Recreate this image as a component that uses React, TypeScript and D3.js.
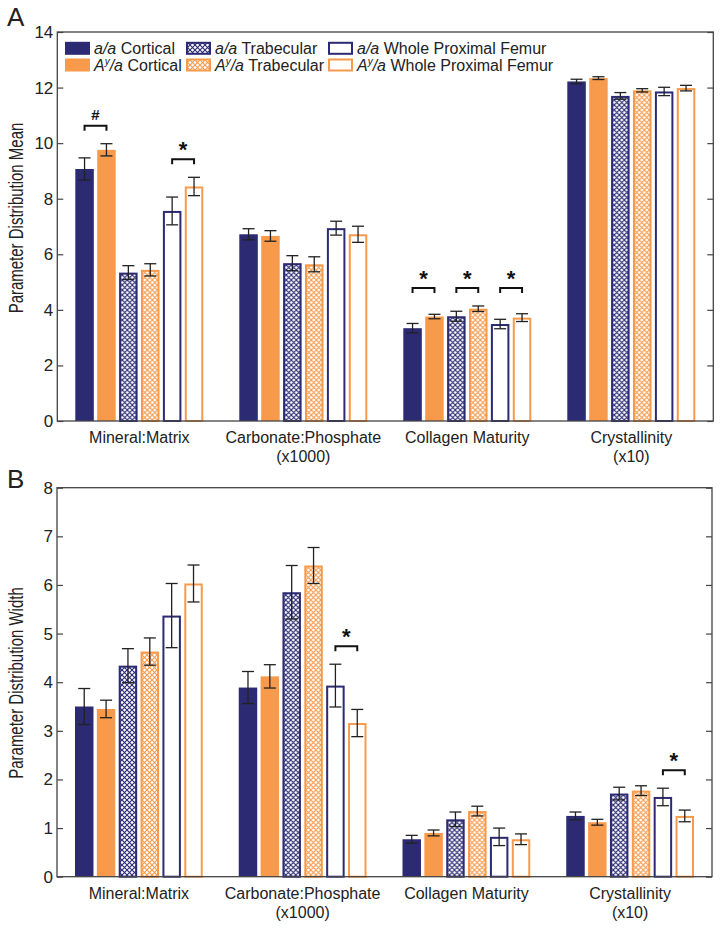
import { useEffect, useRef } from "react";
import * as d3 from "d3";

const categories = ["Mineral:Matrix", "Carbonate:Phosphate", "Collagen Maturity", "Crystallinity"];
const categoryNotes = ["", "(x1000)", "", "(x10)"];

const seriesNames = [
  "a/a Cortical",
  "Ay/a Cortical",
  "a/a Trabecular",
  "Ay/a Trabecular",
  "a/a Whole Proximal Femur",
  "Ay/a Whole Proximal Femur",
];
const genotypes = ["aa", "Aya", "aa", "Aya", "aa", "Aya"];
const regions = ["Cortical", "Cortical", "Trabecular", "Trabecular", "Whole Proximal Femur", "Whole Proximal Femur"];
const fillKinds = ["solid", "solid", "hatch", "hatch", "open", "open"];

// panel A, one row per category, columns follow seriesNames
const meanValues = [
  [9.07, 9.76, 5.34, 5.44, 7.56, 8.44],
  [6.72, 6.66, 5.68, 5.64, 6.94, 6.72],
  [3.34, 3.76, 3.77, 4.04, 3.49, 3.72],
  [12.22, 12.34, 11.7, 11.9, 11.86, 11.98],
];
const meanErrors = [
  [0.4, 0.22, 0.25, 0.22, 0.5, 0.33],
  [0.2, 0.19, 0.27, 0.27, 0.25, 0.29],
  [0.17, 0.08, 0.18, 0.1, 0.17, 0.14],
  [0.08, 0.05, 0.12, 0.06, 0.15, 0.1],
];
const meanTicks = [0, 2, 4, 6, 8, 10, 12, 14];

// panel B
const widthValues = [
  [3.5, 3.45, 4.34, 4.63, 5.37, 6.03],
  [3.89, 4.12, 5.85, 6.4, 3.93, 3.16],
  [0.77, 0.9, 1.18, 1.35, 0.82, 0.77],
  [1.25, 1.12, 1.71, 1.77, 1.64, 1.25],
];
const widthErrors = [
  [0.37, 0.18, 0.35, 0.28, 0.66, 0.38],
  [0.33, 0.24, 0.55, 0.37, 0.44, 0.28],
  [0.08, 0.06, 0.15, 0.1, 0.18, 0.11],
  [0.08, 0.06, 0.13, 0.1, 0.18, 0.12],
];
const widthTicks = [0, 1, 2, 3, 4, 5, 6, 7, 8];

// significance brackets: pair 0 = cortical, 1 = trabecular, 2 = whole femur
const meanMarks = [
  { category: 0, pairs: [0], label: "#" },
  { category: 0, pairs: [2], label: "*" },
  { category: 2, pairs: [0, 1, 2], label: "*" },
];
const widthMarks = [
  { category: 1, pairs: [2], label: "*" },
  { category: 3, pairs: [2], label: "*" },
];

const NAVY = "#2b2a72";
const ORANGE = "#f89a4b";
const INK = "#222";
const FONT = "'Liberation Sans', Arial, Helvetica, sans-serif";

const colorOf = (i) => (genotypes[i] === "aa" ? NAVY : ORANGE);
const fillOf = (i) => {
  const kind = fillKinds[i];
  if (kind === "solid") return colorOf(i);
  if (kind === "hatch") return `url(#hatch-${genotypes[i]})`;
  return "#fff";
};

function writeGenotype(text, g) {
  if (g === "aa") {
    text.append("tspan").attr("font-style", "italic").text("a/a");
  } else {
    text.append("tspan").attr("font-style", "italic").text("A");
    text.append("tspan").attr("font-style", "italic").attr("font-size", 10).attr("dy", -6).text("y");
    text.append("tspan").attr("font-style", "italic").attr("dy", 6).text("/a");
  }
}

function drawPanel(svg, opts) {
  const { top, bottom, left, right, values, errors, ticks, yLabel, yLabelY, letter, letterY, marks, legend } = opts;

  const x0 = d3.scaleBand().domain(categories).range([left, right]);
  const x1 = d3
    .scaleBand()
    .domain(seriesNames)
    .range([18, x0.bandwidth() - 18])
    .paddingInner(0.155);
  const y = d3.scaleLinear().domain([ticks[0], ticks[ticks.length - 1]]).range([bottom, top]);

  const g = svg.append("g");

  // bars
  categories.forEach((cat, ci) => {
    const group = g.append("g").attr("transform", `translate(${x0(cat)},0)`);
    seriesNames.forEach((s, si) => {
      const v = values[ci][si];
      const bx = x1(s);
      const bw = x1.bandwidth();
      if (fillKinds[si] === "solid") {
        group
          .append("rect")
          .attr("x", bx)
          .attr("y", y(v))
          .attr("width", bw)
          .attr("height", y(0) - y(v))
          .attr("fill", colorOf(si));
      } else {
        group
          .append("rect")
          .attr("x", bx + 1)
          .attr("y", y(v) + 1)
          .attr("width", bw - 2)
          .attr("height", y(0) - y(v) - 1)
          .attr("fill", fillOf(si))
          .attr("stroke", colorOf(si))
          .attr("stroke-width", 2);
      }
    });
    // error bars
    seriesNames.forEach((s, si) => {
      const v = values[ci][si];
      const e = errors[ci][si];
      const cx = x1(s) + x1.bandwidth() / 2;
      const eb = group.append("g").attr("stroke", INK).attr("stroke-width", 1.3);
      eb.append("line").attr("x1", cx).attr("x2", cx).attr("y1", y(v - e)).attr("y2", y(v + e));
      [v - e, v + e].forEach((yy) => {
        eb.append("line").attr("x1", cx - 6).attr("x2", cx + 6).attr("y1", y(yy)).attr("y2", y(yy));
      });
    });
  });

  // significance brackets
  marks.forEach((m) => {
    const ci = m.category;
    const peak = d3.max(m.pairs.flatMap((p) => [2 * p, 2 * p + 1].map((si) => values[ci][si] + errors[ci][si])));
    const by = y(peak) - 18;
    m.pairs.forEach((p) => {
      const xa = x0(categories[ci]) + x1(seriesNames[2 * p]) + x1.bandwidth() / 2;
      const xb = x0(categories[ci]) + x1(seriesNames[2 * p + 1]) + x1.bandwidth() / 2;
      g.append("path")
        .attr("d", `M${xa},${by + 5}V${by}H${xb}V${by + 5}`)
        .attr("fill", "none")
        .attr("stroke", "#111")
        .attr("stroke-width", 2);
      g.append("text")
        .attr("x", (xa + xb) / 2)
        .attr("y", m.label === "#" ? by - 6 : by - 2)
        .attr("text-anchor", "middle")
        .attr("font-family", FONT)
        .attr("font-weight", "bold")
        .attr("font-size", m.label === "#" ? 15 : 22)
        .attr("fill", "#111")
        .text(m.label);
    });
  });

  // frame and axes
  g.append("rect")
    .attr("x", left)
    .attr("y", top)
    .attr("width", right - left)
    .attr("height", bottom - top)
    .attr("fill", "none")
    .attr("stroke", "#444")
    .attr("stroke-width", 1.3);

  const yAxis = g
    .append("g")
    .attr("transform", `translate(${left},0)`)
    .call(d3.axisLeft(y).tickValues(ticks).tickSize(-6).tickSizeOuter(0).tickPadding(4));
  yAxis.select(".domain").remove();
  yAxis.selectAll("line").attr("stroke", "#444").attr("stroke-width", 1.2);
  yAxis.selectAll("text").attr("font-family", FONT).attr("font-size", 17).attr("fill", INK);

  const yRight = g
    .append("g")
    .attr("transform", `translate(${right},0)`)
    .call(d3.axisRight(y).tickValues(ticks).tickSize(-6).tickSizeOuter(0).tickFormat(() => ""));
  yRight.select(".domain").remove();
  yRight.selectAll("line").attr("stroke", "#444").attr("stroke-width", 1.2);

  // category labels
  categories.forEach((cat, ci) => {
    const cx = x0(cat) + x0.bandwidth() / 2;
    const t = g
      .append("text")
      .attr("x", cx)
      .attr("y", bottom + 22)
      .attr("text-anchor", "middle")
      .attr("font-family", FONT)
      .attr("font-size", 16)
      .attr("fill", INK);
    t.append("tspan").attr("x", cx).text(cat);
    if (categoryNotes[ci]) t.append("tspan").attr("x", cx).attr("dy", 19).text(categoryNotes[ci]);
  });

  g.append("text")
    .attr("transform", `translate(23,${yLabelY}) scale(1.3,1) rotate(-90)`)
    .attr("text-anchor", "middle")
    .attr("font-family", FONT)
    .attr("font-size", 15)
    .attr("fill", INK)
    .text(yLabel);

  g.append("text")
    .attr("x", 7)
    .attr("y", letterY)
    .attr("font-family", FONT)
    .attr("font-size", 26)
    .attr("fill", INK)
    .text(letter);

  if (legend) {
    const cols = [7.7, 128.7, 270.7];
    const rows = [48.3, 65];
    seriesNames.forEach((s, si) => {
      const lx = left + cols[Math.floor(si / 2)];
      const ly = rows[si % 2];
      const item = g.append("g");
      if (fillKinds[si] === "solid") {
        item.append("rect").attr("x", lx).attr("y", ly - 6.5).attr("width", 25).attr("height", 13).attr("fill", colorOf(si));
      } else {
        item
          .append("rect")
          .attr("x", lx + 1)
          .attr("y", ly - 5.5)
          .attr("width", 23)
          .attr("height", 11)
          .attr("fill", fillOf(si))
          .attr("stroke", colorOf(si))
          .attr("stroke-width", 2);
      }
      const t = item
        .append("text")
        .attr("x", lx + 29)
        .attr("y", ly + 5.5)
        .attr("font-family", FONT)
        .attr("font-size", 16)
        .attr("fill", INK);
      writeGenotype(t, genotypes[si]);
      t.append("tspan").text(" " + regions[si]);
    });
  }
}

const App = () => {
  const svgRef = useRef(null);

  useEffect(() => {
    document.body.style.margin = "0";
    const svg = d3.select(svgRef.current);
    svg.selectAll("*").remove();

    const defs = svg.append("defs");
    [
      ["aa", NAVY],
      ["Aya", ORANGE],
    ].forEach(([key, col]) => {
      const p = defs
        .append("pattern")
        .attr("id", `hatch-${key}`)
        .attr("patternUnits", "userSpaceOnUse")
        .attr("width", 5)
        .attr("height", 5);
      p.append("rect").attr("width", 5).attr("height", 5).attr("fill", "#fff");
      p.append("path").attr("d", "M0,0L5,5M5,0L0,5").attr("stroke", col).attr("stroke-width", 1.1);
    });

    drawPanel(svg, {
      top: 32,
      bottom: 421,
      left: 57.3,
      right: 713.3,
      values: meanValues,
      errors: meanErrors,
      ticks: meanTicks,
      yLabel: "Parameter Distribution Mean",
      yLabelY: 218,
      letter: "A",
      letterY: 26,
      marks: meanMarks,
      legend: true,
    });

    drawPanel(svg, {
      top: 487.7,
      bottom: 876.7,
      left: 57,
      right: 712,
      values: widthValues,
      errors: widthErrors,
      ticks: widthTicks,
      yLabel: "Parameter Distribution Width",
      yLabelY: 683,
      letter: "B",
      letterY: 488,
      marks: widthMarks,
      legend: false,
    });
  }, []);

  return <svg ref={svgRef} width={725} height={928} style={{ display: "block", background: "#fff" }}></svg>;
};

export default App;
